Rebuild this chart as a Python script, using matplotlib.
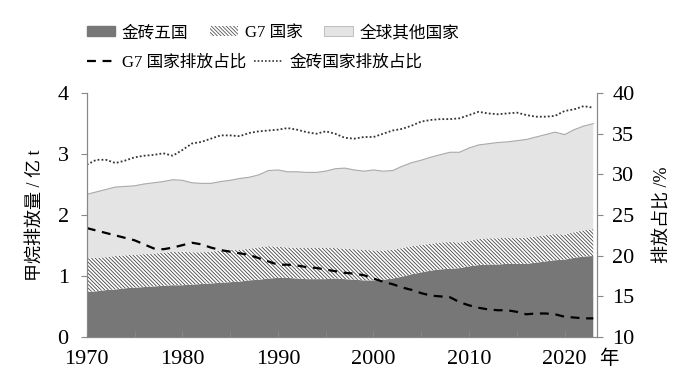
import numpy as np
import matplotlib.pyplot as plt
from matplotlib.patches import Patch
from matplotlib.lines import Line2D

plt.rcParams['font.family'] = ['Liberation Serif', 'Noto Sans CJK SC']
plt.rcParams['hatch.linewidth'] = 0.6

years = list(range(1970, 2024))

# 甲烷排放量 (亿 t)
brics = [0.74, 0.75, 0.77, 0.78, 0.80, 0.81, 0.82, 0.83, 0.84, 0.85,
         0.85, 0.86, 0.87, 0.88, 0.89, 0.90, 0.91, 0.93, 0.94, 0.96,
         0.97, 0.97, 0.96, 0.95, 0.95, 0.95, 0.96, 0.95, 0.94, 0.93,
         0.93, 0.94, 0.96, 0.99, 1.03, 1.06, 1.09, 1.11, 1.12, 1.13,
         1.16, 1.18, 1.19, 1.19, 1.20, 1.20, 1.20, 1.22, 1.24, 1.26,
         1.27, 1.30, 1.32, 1.33]
g7 = [0.55, 0.55, 0.54, 0.55, 0.54, 0.54, 0.54, 0.54, 0.54, 0.55,
      0.55, 0.53, 0.52, 0.52, 0.53, 0.53, 0.52, 0.52, 0.53, 0.53,
      0.51, 0.50, 0.50, 0.51, 0.51, 0.51, 0.50, 0.50, 0.50, 0.50,
      0.49, 0.48, 0.47, 0.47, 0.46, 0.45, 0.44, 0.44, 0.44, 0.42,
      0.42, 0.43, 0.43, 0.43, 0.43, 0.43, 0.43, 0.43, 0.43, 0.43,
      0.41, 0.42, 0.43, 0.44]
others = [1.05, 1.08, 1.11, 1.13, 1.13, 1.13, 1.15, 1.16, 1.17, 1.18,
          1.17, 1.14, 1.13, 1.12, 1.13, 1.14, 1.17, 1.17, 1.19, 1.24,
          1.26, 1.24, 1.25, 1.24, 1.24, 1.26, 1.30, 1.32, 1.30, 1.29,
          1.32, 1.30, 1.30, 1.34, 1.37, 1.39, 1.42, 1.44, 1.47, 1.48,
          1.52, 1.54, 1.55, 1.57, 1.57, 1.59, 1.61, 1.63, 1.65, 1.67,
          1.64, 1.68, 1.71, 1.73]

# 排放占比 (%)
brics_share = [31.2, 31.8, 31.8, 31.4, 31.7, 32.1, 32.3, 32.4, 32.6, 32.3,
               33.0, 33.8, 34.0, 34.4, 34.8, 34.8, 34.7, 35.1, 35.3, 35.4,
               35.5, 35.7, 35.5, 35.2, 35.0, 35.3, 35.0, 34.5, 34.4, 34.6,
               34.6, 35.0, 35.4, 35.6, 36.0, 36.5, 36.7, 36.8, 36.8, 36.9,
               37.3, 37.7, 37.5, 37.4, 37.5, 37.6, 37.3, 37.1, 37.1, 37.2,
               37.8, 38.0, 38.4, 38.2]
g7_share = [23.4, 23.1, 22.8, 22.5, 22.2, 21.9, 21.4, 20.9, 20.8, 21.0,
            21.3, 21.6, 21.4, 21.0, 20.7, 20.5, 20.3, 20.1, 19.7, 19.3,
            18.9, 18.9, 18.8, 18.6, 18.5, 18.3, 18.1, 17.9, 17.8, 17.6,
            17.2, 16.8, 16.5, 16.1, 15.8, 15.4, 15.1, 15.0, 14.9, 14.3,
            13.9, 13.6, 13.4, 13.3, 13.3, 13.1, 12.8, 12.9, 12.9, 12.8,
            12.5, 12.4, 12.3, 12.3]

dark = '#777777'
light = '#e4e4e4'
axcol = '#888888'
hatch = '\\' * 9

fig = plt.figure(figsize=(7, 3.8), dpi=100)
ax = fig.add_axes([0.124, 0.113, 0.729, 0.642])

polys = ax.stackplot(years, brics, g7, others,
                     colors=[dark, 'white', light], linewidth=0)
polys[1].set_hatch(hatch)
polys[1].set_edgecolor('#444444')
top = np.array(brics) + np.array(g7) + np.array(others)
ax.plot(years, top, color='#aaaaaa', lw=0.8)

ax.set_xlim(1970, 2023.4)
ax.set_ylim(0, 4)
ax.set_yticks([0, 1, 2, 3, 4])
ax.set_xticks(range(1970, 2021, 10))
ax.set_xticks(range(1975, 2024, 5), minor=True)
ax.tick_params(axis='x', which='both', direction='in', length=4,
               color=axcol, labelsize=16, pad=9)
ax.tick_params(axis='y', direction='out', length=4, color=axcol,
               labelsize=16, pad=9)
ax.set_ylabel('甲烷排放量 / 亿 t', fontsize=13, labelpad=10)
ax.spines['top'].set_visible(False)
for s in ['left', 'bottom', 'right']:
    ax.spines[s].set_color(axcol)
ax.text(1.024, -0.09, '年', transform=ax.transAxes, fontsize=14,
        ha='center', va='center')

ax2 = ax.twinx()
ax2.plot(years, g7_share, color='black', lw=1.6, ls=(0, (4, 3)))
ax2.plot(years, brics_share, color='#333333', lw=1.3, ls=(0, (1, 1.2)))
ax2.set_ylim(10, 40)
ax2.set_yticks(range(10, 41, 5))
ax2.tick_params(axis='y', direction='out', length=4, color=axcol,
                labelsize=16, pad=7)
ax2.set_ylabel('排放占比 /%', fontsize=13, labelpad=14)
ax2.spines['top'].set_visible(False)
for s in ['left', 'bottom', 'right']:
    ax2.spines[s].set_color(axcol)

h1 = [Patch(facecolor=dark, edgecolor=dark),
      Patch(facecolor='white', edgecolor='#555555', hatch=hatch, lw=0),
      Patch(facecolor=light, edgecolor='#aaaaaa', lw=0.5)]
fig.legend(h1, ['金砖五国', 'G7 国家', '全球其他国家'], loc='center left',
           bbox_to_anchor=(0.124, 0.913), ncol=3, frameon=False, fontsize=12,
           handlelength=1.7, handleheight=0.6, columnspacing=1.3,
           handletextpad=0.4, borderaxespad=0, borderpad=0)
h2 = [Line2D([], [], color='black', lw=1.6, ls=(0, (4, 3))),
      Line2D([], [], color='#333333', lw=1.2, ls=(0, (1, 1.2)))]
fig.legend(h2, ['G7 国家排放占比', '金砖国家排放占比'], loc='center left',
           bbox_to_anchor=(0.124, 0.835), ncol=2, frameon=False, fontsize=12,
           handlelength=1.7, columnspacing=0.5, handletextpad=0.4,
           borderaxespad=0, borderpad=0)

fig.savefig('out.png', dpi=100)
